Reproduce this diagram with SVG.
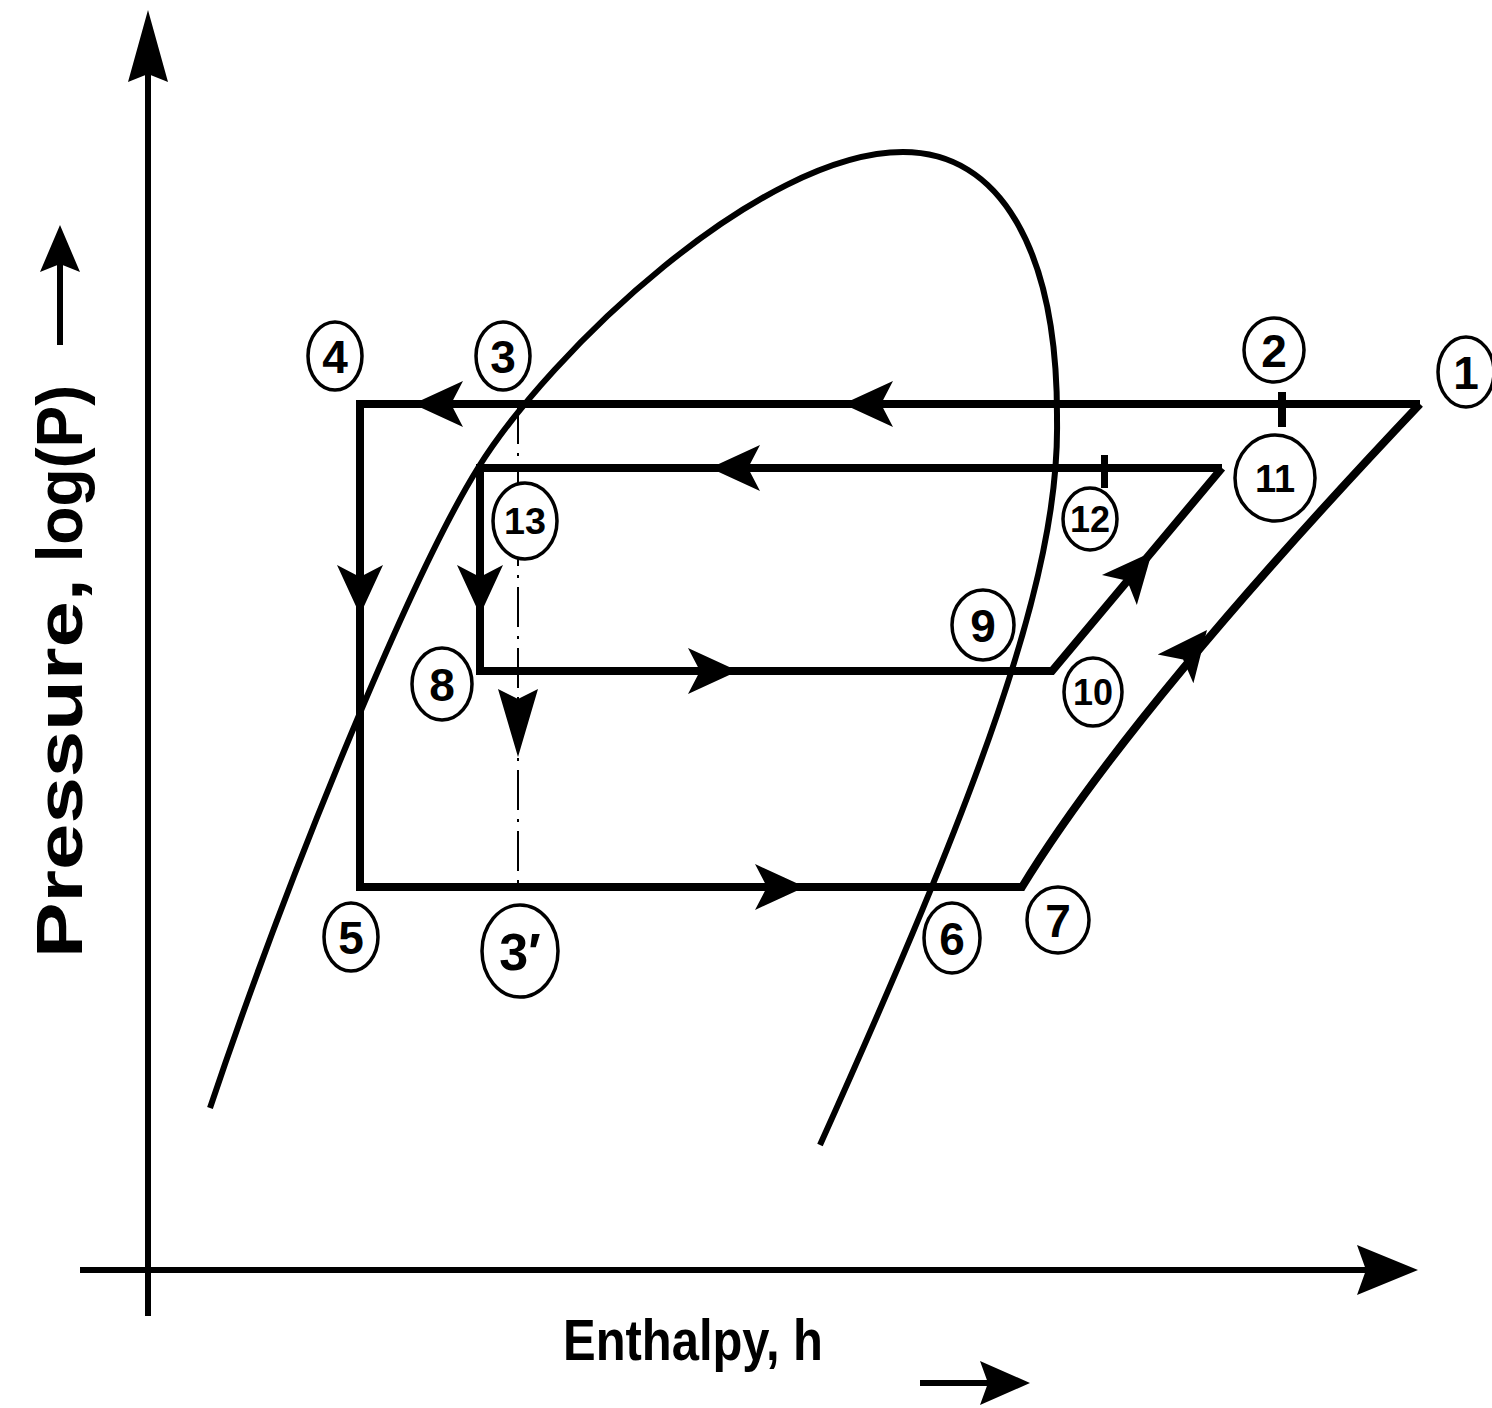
<svg xmlns="http://www.w3.org/2000/svg" width="1492" height="1408" viewBox="0 0 1492 1408">
<style>
.ax{stroke:#000;stroke-width:6;fill:none}
.cyc{stroke:#000;stroke-width:8;fill:none;stroke-linejoin:miter;stroke-miterlimit:6}
.dome{stroke:#000;stroke-width:6;fill:none}
.dash{stroke:#000;stroke-width:2;fill:none;stroke-dasharray:40 9 3 9}
.lbl ellipse{fill:#fff;stroke:#000;stroke-width:3.5}
.lbl text{font-family:"Liberation Sans",Arial,sans-serif;font-weight:bold;text-anchor:middle;fill:#000}
.title{font-family:"Liberation Sans",Arial,sans-serif;font-weight:bold;fill:#000}
</style>
<defs>
<path id="ah" d="M0,0 L-50,-23 L-38,0 L-50,23 Z" fill="#000"/>
<path id="ahn" d="M0,0 L-68,-20 L-58,0 L-68,20 Z" fill="#000"/>
</defs>
<rect width="1492" height="1408" fill="#fff"/>

<g id="axes">
<line class="ax" x1="148" y1="1316" x2="148" y2="60"/>
<path d="M148,10 L168,82 L148,74 L128,82 Z" fill="#000"/>
<line class="ax" x1="80" y1="1270" x2="1370" y2="1270"/>
<path d="M1418,1270 L1357,1295 L1366,1270 L1357,1245 Z" fill="#000"/>
</g>

<g id="dome">
<path class="dome" d="M210,1108 C290,870 412,574 478,468 C550,352 760,152 903,152 C1000,152 1058,250 1057,420 C1060,580 975,800 820,1145"/>
</g>

<g id="connectors">
<path class="cyc" d="M1420,404 L360,404 L360,887 L1022,887 Q1130,710 1420,404"/>
<path class="cyc" d="M1222,468 L480,468 L480,671 L1052,671 L1222,468"/>
<line class="dash" x1="518" y1="404" x2="518" y2="887"/>
<rect x="1278" y="392" width="8" height="35" fill="#000"/>
<rect x="1101" y="455" width="7" height="33" fill="#000"/>
<use href="#ah" transform="translate(413,404) rotate(180)"/>
<use href="#ah" transform="translate(843,404) rotate(180)"/>
<use href="#ah" transform="translate(710,468) rotate(180)"/>
<use href="#ah" transform="translate(360,615) rotate(90)"/>
<use href="#ah" transform="translate(480,615) rotate(90)"/>
<use href="#ah" transform="translate(738,671)"/>
<use href="#ah" transform="translate(805,887)"/>
<use href="#ah" transform="translate(1152,552) rotate(-49.3)"/>
<use href="#ah" transform="translate(1207,630) rotate(-51)"/>
<use href="#ahn" transform="translate(518,757) rotate(90)"/>
</g>

<g id="n1" class="lbl"><ellipse cx="1466" cy="372" rx="28" ry="35"/><text x="1466" y="389" font-size="46">1</text></g>
<g id="n2" class="lbl"><ellipse cx="1274" cy="350" rx="30" ry="32"/><text x="1274" y="367" font-size="46">2</text></g>
<g id="n3" class="lbl"><ellipse cx="503" cy="356" rx="27" ry="34"/><text x="503" y="373" font-size="46">3</text></g>
<g id="n4" class="lbl"><ellipse cx="335" cy="356" rx="27" ry="34"/><text x="335" y="373" font-size="46">4</text></g>
<g id="n5" class="lbl"><ellipse cx="351" cy="937" rx="27" ry="34"/><text x="351" y="954" font-size="46">5</text></g>
<g id="n6" class="lbl"><ellipse cx="952" cy="938" rx="28" ry="35"/><text x="952" y="955" font-size="46">6</text></g>
<g id="n7" class="lbl"><ellipse cx="1058" cy="920" rx="31" ry="33"/><text x="1058" y="937" font-size="46">7</text></g>
<g id="n8" class="lbl"><ellipse cx="442" cy="684" rx="30" ry="36"/><text x="442" y="701" font-size="46">8</text></g>
<g id="n9" class="lbl"><ellipse cx="983" cy="625" rx="31" ry="35"/><text x="983" y="642" font-size="46">9</text></g>
<g id="n10" class="lbl"><ellipse cx="1093" cy="692" rx="29" ry="34"/><text x="1093" y="705" font-size="36" textLength="40" lengthAdjust="spacingAndGlyphs">10</text></g>
<g id="n11" class="lbl"><ellipse cx="1275" cy="478" rx="40" ry="43"/><text x="1275" y="492" font-size="38">11</text></g>
<g id="n12" class="lbl"><ellipse cx="1090" cy="519" rx="27" ry="31"/><text x="1090" y="532" font-size="36" textLength="40" lengthAdjust="spacingAndGlyphs">12</text></g>
<g id="n13" class="lbl"><ellipse cx="525" cy="521" rx="32" ry="38"/><text x="525" y="534" font-size="36" textLength="42" lengthAdjust="spacingAndGlyphs">13</text></g>
<g id="n3p" class="lbl"><ellipse cx="520" cy="951" rx="38" ry="46"/><text x="520" y="970" font-size="52">3′</text></g>

<g id="ylabel">
<text class="title" transform="translate(82,958) rotate(-90)" font-size="64" textLength="380" lengthAdjust="spacingAndGlyphs">Pressure,</text>
<text class="title" transform="translate(82,562) rotate(-90)" font-size="64" textLength="177" lengthAdjust="spacingAndGlyphs">log(P)</text>
<line class="ax" x1="60" y1="345" x2="60" y2="260" stroke-width="7"/>
<path d="M60,225 L80,272 L60,264 L40,272 Z" fill="#000"/>
</g>
<g id="xlabel">
<text class="title" x="563" y="1360" font-size="58" textLength="260" lengthAdjust="spacingAndGlyphs">Enthalpy, h</text>
<line class="ax" x1="920" y1="1383" x2="990" y2="1383" stroke-width="8"/>
<path d="M1030,1383 L980,1361 L988,1383 L980,1405 Z" fill="#000"/>
</g>
</svg>
